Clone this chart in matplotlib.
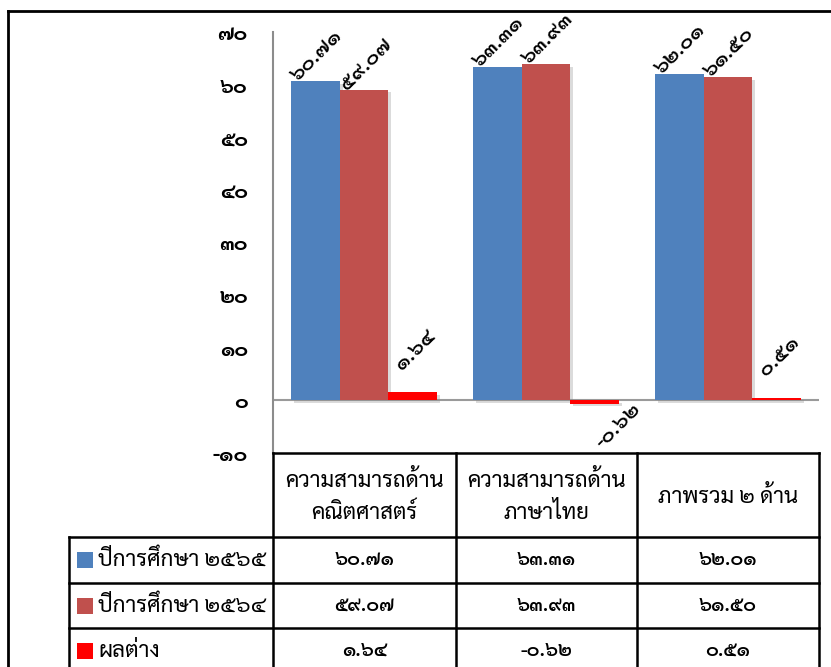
import matplotlib
matplotlib.use("Agg")
import matplotlib.pyplot as plt
import matplotlib.patheffects as pe
from matplotlib.lines import Line2D
from matplotlib.patches import Rectangle
from matplotlib.ticker import FuncFormatter, MultipleLocator
import numpy as np

plt.rcParams['font.family'] = ['Sarabun', 'DejaVu Sans']

categories = ["ความสามารถด้าน\nคณิตศาสตร์", "ความสามารถด้าน\nภาษาไทย", "ภาพรวม ๒ ด้าน"]
series_names = ["ปีการศึกษา ๒๕๖๕", "ปีการศึกษา ๒๕๖๔", "ผลต่าง"]
y2565 = [60.71, 63.31, 62.01]
y2564 = [59.07, 63.93, 61.50]
diff = [1.64, -0.62, 0.51]
colors = ["#4F81BD", "#C0504D", "#FF0000"]

TH = str.maketrans("0123456789", "๐๑๒๓๔๕๖๗๘๙")
def th(s):
    return s.translate(TH)

W, H = 831, 667
fig = plt.figure(figsize=(W / 100, H / 100), dpi=100)

def fx(px):
    return px / W
def fy(py):
    return 1 - py / H

ax = fig.add_axes([fx(273), fy(453), fx(819) - fx(273), fy(32) - fy(453)])
ax.set_xlim(-0.5, 2.5)
ax.set_ylim(-10, 70)
x = np.arange(len(categories))
bw = 0.8 / 3
series = [y2565, y2564, diff]
shadow = [pe.SimplePatchShadow(offset=(2, -2), shadow_rgbFace="#888888", alpha=0.3), pe.Normal()]
bars_all = []
for i, (vals, c) in enumerate(zip(series, colors)):
    bars = ax.bar(x + (i - 1) * bw, vals, bw, color=c, zorder=3)
    for b in bars:
        b.set_path_effects(shadow)
    bars_all.append(bars)

for spine in ["top", "right", "bottom"]:
    ax.spines[spine].set_visible(False)
ax.spines["left"].set_color("#8c8c8c")
ax.spines["left"].set_linewidth(1.5)
ax.axhline(0, color="#9a9a9a", lw=1.5, zorder=2)
ax.set_xticks([])
ax.yaxis.set_major_locator(MultipleLocator(10))
ax.yaxis.set_major_formatter(FuncFormatter(lambda v, p: th(f"{v:.0f}")))
ax.tick_params(axis="y", length=0, pad=18, labelsize=15)
for lab in ax.get_yticklabels():
    lab.set_fontweight("bold")

# data labels
for i in range(2):
    for b, v in zip(bars_all[i], series[i]):
        ax.annotate(th(f"{v:.2f}"), (b.get_x(), v), xytext=(2, 2), textcoords="offset points",
                    rotation=45, rotation_mode="anchor", ha="left", va="center",
                    fontsize=15, fontweight="semibold", zorder=5)
for b, v in zip(bars_all[2], diff):
    cx = b.get_x() + b.get_width() / 2
    if v >= 0:
        off = (2, 30)
    else:
        off = (17, -16)
    ax.annotate(th(f"{v:.2f}"), (cx, v), xytext=off, textcoords="offset points",
                rotation=45, rotation_mode="anchor", ha="center", va="center",
                fontsize=15, fontweight="semibold", zorder=5)

# outer frame
fig.add_artist(Line2D([fx(8), fx(8)], [fy(11), 0], color="black", lw=2))
fig.add_artist(Line2D([fx(8), 1], [fy(11), fy(11)], color="black", lw=2))

# data table
col_x = [273, 456, 637, 819]
row_y = [453, 537, 583, 628, 673]
leg_x = 69
lw = 1.8
fig.add_artist(Line2D([fx(273), fx(819)], [fy(453), fy(453)], color="black", lw=lw))
for yy in row_y[1:]:
    fig.add_artist(Line2D([fx(leg_x), fx(819)], [fy(yy), fy(yy)], color="black", lw=lw))
for xx in col_x:
    fig.add_artist(Line2D([fx(xx), fx(xx)], [fy(453), fy(673)], color="black", lw=lw))
fig.add_artist(Line2D([fx(leg_x), fx(leg_x)], [fy(537), fy(673)], color="black", lw=lw))

for j, cat in enumerate(categories):
    fig.text(fx((col_x[j] + col_x[j + 1]) / 2), fy((row_y[0] + row_y[1]) / 2 + 2), cat,
             ha="center", va="center", fontsize=16, linespacing=1.6)

for i, (name, vals, c) in enumerate(zip(series_names, series, colors)):
    ymid = (row_y[i + 1] + row_y[i + 2]) / 2
    fig.add_artist(Rectangle((fx(77), fy(ymid + 8)), fx(16), fy(0) - fy(16),
                             transform=fig.transFigure, facecolor=c, edgecolor="none"))
    fig.text(fx(98), fy(ymid), name, ha="left", va="center", fontsize=16.2)
    for j, v in enumerate(vals):
        fig.text(fx((col_x[j] + col_x[j + 1]) / 2), fy(ymid), th(f"{v:.2f}"),
                 ha="center", va="center", fontsize=14, fontweight="semibold")

fig.savefig("out.png", dpi=100)
